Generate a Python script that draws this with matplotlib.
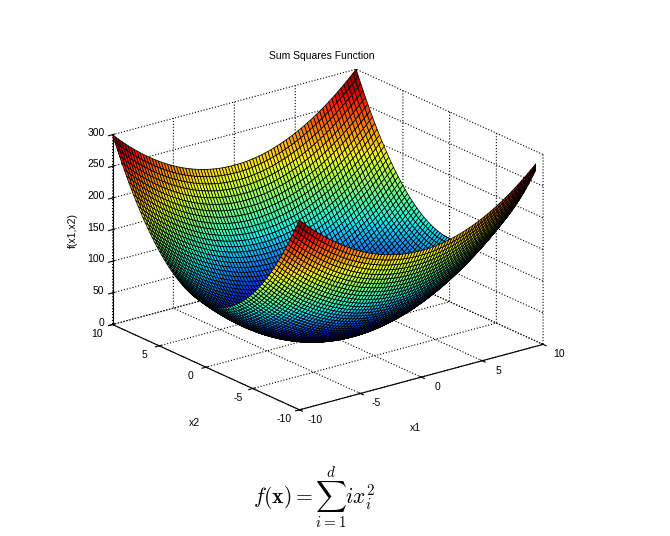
import matplotlib
matplotlib.use("Agg")
import matplotlib.pyplot as plt
import matplotlib.transforms as mtransforms
from mpl_toolkits.mplot3d import proj3d
import numpy as np

# Sum Squares function, MATLAB style surf plot
x1_vals = np.arange(-10, 10.001, 0.25)
x2_vals = np.arange(-10, 10.001, 0.25)
weights = [1, 2]   # f = sum i * x_i^2

x1_ticks = [-10, -5, 0, 5, 10]
x2_ticks = [-10, -5, 0, 5, 10]
z_ticks = [0, 50, 100, 150, 200, 250, 300]

X1, X2 = np.meshgrid(x1_vals, x2_vals)
Z = weights[0] * X1**2 + weights[1] * X2**2

plt.rcParams['font.family'] = ['Liberation Sans', 'DejaVu Sans']
plt.rcParams['axes.unicode_minus'] = False
plt.rcParams['grid.linestyle'] = ':'
plt.rcParams['grid.color'] = 'black'
plt.rcParams['grid.linewidth'] = 0.8
plt.rcParams['mathtext.fontset'] = 'cm'
font_size = 7.5

fig = plt.figure(figsize=(6.7, 5.36), dpi=100)
ax = fig.add_axes([0.0406, 0.1423, 0.88, 0.8], projection='3d')
ax.set_proj_type('ortho')
ax.view_init(elev=20.5, azim=-127.5)
ax.set_box_aspect((1, 1, 0.66), zoom=1.085)

ax.plot_surface(X1, X2, Z, cmap='jet', edgecolor='k', linewidth=0.55,
                rstride=1, cstride=1, shade=False, antialiased=True)

ax.set_xlim(-10, 10)
ax.set_ylim(-10, 10)
ax.set_zlim(0, 300)
ax.set_xticks(x1_ticks)
ax.set_yticks(x2_ticks)
ax.set_zticks(z_ticks)
ax.set_xticklabels([])
ax.set_yticklabels([])
ax.set_zticklabels([])

for axis in (ax.xaxis, ax.yaxis, ax.zaxis):
    axis.set_pane_color((1, 1, 1, 0))
    axis.pane.set_edgecolor((1, 1, 1, 0))
    axis.line.set_color('black')
    axis.line.set_linewidth(0.8)

ax.set_xlabel('')
ax.set_ylabel('')
ax.set_zlabel('')
ax.set_title('Sum Squares Function', size=font_size, y=0.995)

# tick labels placed like MATLAB, from the projected tick positions
fig.canvas.draw()
ident = mtransforms.IdentityTransform()


def put_label(x, y, z, s, dx, dy, ha='center'):
    px, py, _ = proj3d.proj_transform(x, y, z, ax.M)
    dxp, dyp = ax.transData.transform((px, py))
    fig.text(dxp + dx, dyp - dy, s, size=font_size, ha=ha, va='center',
             transform=ident)


for v in x1_ticks:
    put_label(v, -10, 0, str(v), 16, 10)
for v in x2_ticks:
    put_label(-10, v, 0, str(v), -15, 9)
for v in z_ticks:
    put_label(-10, 10, v, str(v), -8, -2, ha='right')

fig.text(415 / 670, 1 - 428 / 536, 'x1', size=font_size, ha='center', va='center')
fig.text(194 / 670, 1 - 423 / 536, 'x2', size=font_size, ha='center', va='center')
fig.text(73 / 670, 1 - 230 / 536, 'f(x1,x2)', size=font_size, ha='center',
         va='center', rotation=90)

fig.text(0.469, 0.073, r'$f(\mathbf{x}) = \sum_{i=1}^{d} i x_i^2$',
         ha='center', va='center', size=15.5)

plt.savefig('out.png', dpi=100)
